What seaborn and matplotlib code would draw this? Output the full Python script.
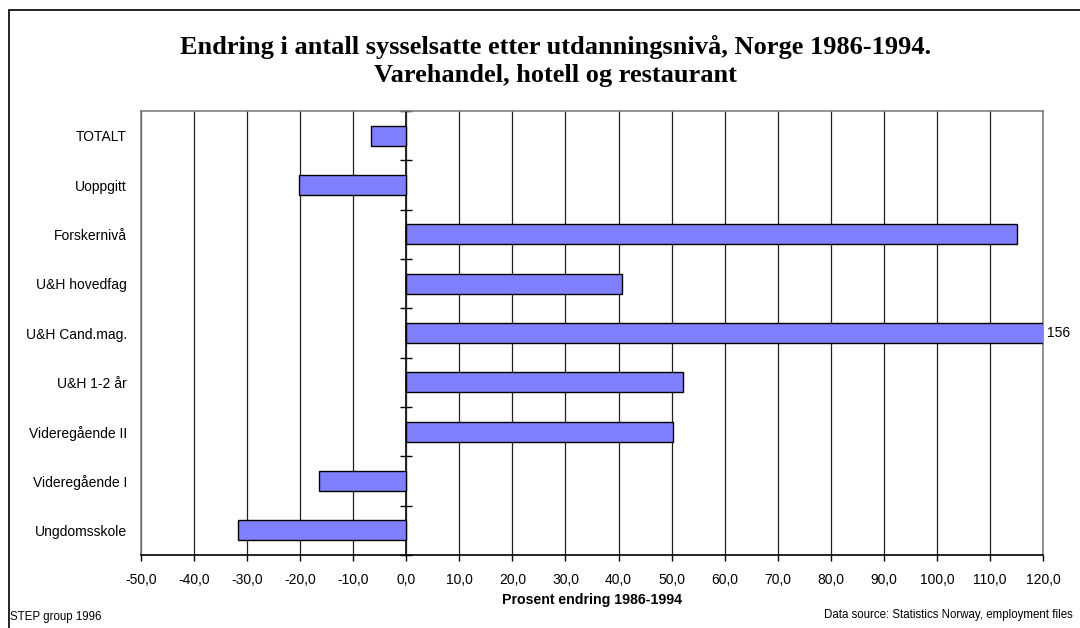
import pandas as pd
import matplotlib.pyplot as plt
import matplotlib.patches as mpatches
import seaborn as sns

# Data (prosent endring 1986-1994)
kategorier = ["TOTALT", "Uoppgitt", "Forskernivå", "U&H hovedfag", "U&H Cand.mag.",
              "U&H 1-2 år", "Videregående II", "Videregående I", "Ungdomsskole"]
endring = [-6.7, -20.3, 115.1, 40.7, 156.0, 52.2, 50.2, -16.4, -31.7]
x_ticks = [-50, -40, -30, -20, -10, 0, 10, 20, 30, 40, 50, 60, 70, 80, 90, 100, 110, 120]
x_ticklabels = ["-50,0", "-40,0", "-30,0", "-20,0", "-10,0", "0,0", "10,0", "20,0", "30,0",
                "40,0", "50,0", "60,0", "70,0", "80,0", "90,0", "100,0", "110,0", "120,0"]
x_min, x_max = -50, 120
utenfor_label = "156"

df = pd.DataFrame({"kategori": kategorier, "endring": endring})

sns.set_theme(style="white")
plt.rcParams["font.family"] = ["Liberation Sans", "DejaVu Sans"]
plt.rcParams["text.color"] = "black"
plt.rcParams["axes.labelcolor"] = "black"

fig = plt.figure(figsize=(10.8, 6.28), dpi=100)
ax = fig.add_axes([141 / 1080, 1 - 555 / 628, (1043 - 141) / 1080, (555 - 111) / 628])

sns.barplot(data=df, x="endring", y="kategori", orient="h", color="#8080FF",
            saturation=1, edgecolor="black", linewidth=1.0, width=0.41, ax=ax, zorder=3)

ax.set_xlim(x_min, x_max)
ax.set_ylim(len(kategorier) - 0.5, -0.5)
ax.set_xticks(x_ticks)
ax.set_xticklabels(x_ticklabels, fontsize=10, color="black")
ax.tick_params(axis="x", direction="out", length=4, width=1, color="black", pad=9, bottom=True)
ax.tick_params(axis="y", length=0, pad=10, labelsize=10, labelcolor="black")
ax.set_ylabel("")
ax.set_xlabel("Prosent endring 1986-1994", fontsize=10.2, fontweight="bold", labelpad=4,
              color="black")

ax.xaxis.grid(True, color="#202020", linewidth=0.9, zorder=0)
ax.set_axisbelow(True)
for side in ["left", "top", "right"]:
    ax.spines[side].set_color("#808080")
    ax.spines[side].set_linewidth(1.2)
ax.spines["bottom"].set_color("black")
ax.spines["bottom"].set_linewidth(1.2)

# nullakse med kategoriskiller
null_pos = (0 - x_min) / (x_max - x_min)
sec = ax.secondary_yaxis(null_pos)
sec.set_yticks([i - 0.5 for i in range(len(kategorier) + 1)])
sec.set_yticklabels([])
sec.tick_params(direction="inout", length=8, width=1, color="black")
sec.spines["left"].set_color("black")
sec.spines["left"].set_linewidth(1.2)

# verdi utenfor skala
ax.annotate(utenfor_label, xy=(1, kategorier.index("U&H Cand.mag.")),
            xycoords=("axes fraction", "data"), xytext=(3, 0), textcoords="offset points",
            ha="left", va="center", fontsize=10, annotation_clip=False)

fig.text(0.514, 1 - 61 / 628,
         "Endring i antall sysselsatte etter utdanningsnivå, Norge 1986-1994.\n"
         "Varehandel, hotell og restaurant",
         ha="center", va="center", fontsize=19, fontweight="bold", color="black",
         family=["Liberation Serif", "DejaVu Serif"], linespacing=1.3)

fig.text(10 / 1080, 1 - 617 / 628, "STEP group 1996", ha="left", va="center", fontsize=8.3)
fig.text(1073 / 1080, 1 - 615 / 628, "Data source: Statistics Norway, employment files",
         ha="right", va="center", fontsize=8.3)

border = mpatches.Rectangle((9 / 1080, -0.1), 1.2, 1 - 10 / 628 + 0.1, transform=fig.transFigure,
                            fill=False, edgecolor="black", linewidth=1.2)
fig.patches.append(border)

fig.savefig("out.png", dpi=100)
plt.close()
